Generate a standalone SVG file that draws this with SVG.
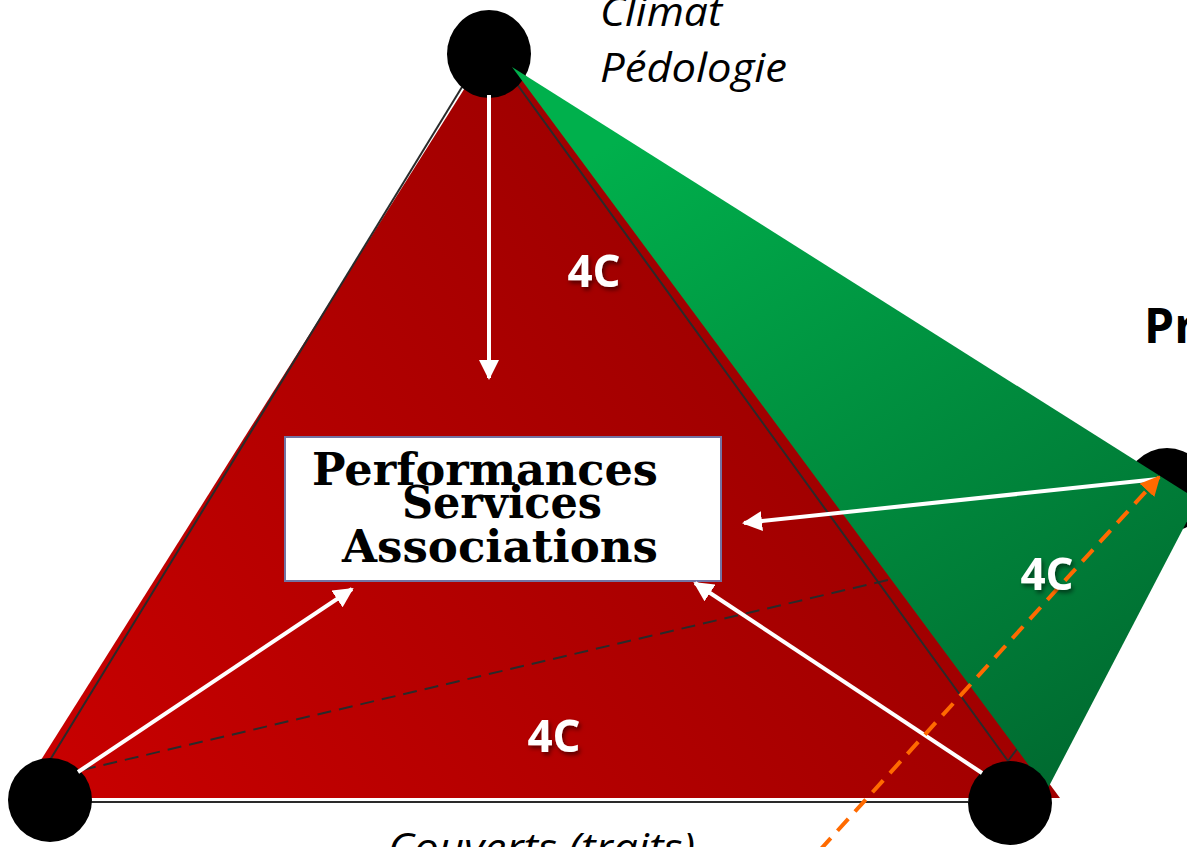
<svg xmlns="http://www.w3.org/2000/svg" width="1187" height="847" viewBox="0 0 1187 847">
<defs>
<linearGradient id="redG" gradientUnits="userSpaceOnUse" x1="60" y1="800" x2="900" y2="150">
<stop offset="0" stop-color="#c80000"/>
<stop offset="1" stop-color="#940000"/>
</linearGradient>
<linearGradient id="greenG" gradientUnits="userSpaceOnUse" x1="650" y1="120" x2="1060" y2="790">
<stop offset="0" stop-color="#00b04c"/>
<stop offset="1" stop-color="#006a30"/>
</linearGradient>
<marker id="wh" viewBox="0 0 10 10" refX="9" refY="5" markerWidth="5" markerHeight="5" orient="auto" markerUnits="strokeWidth">
<path d="M0,0 L10,5 L0,10 z" fill="#fff"/>
</marker>
<marker id="oh" viewBox="0 0 10 10" refX="9" refY="5" markerWidth="5" markerHeight="5" orient="auto" markerUnits="strokeWidth">
<path d="M0,0 L10,5 L0,10 z" fill="#ff6a00"/>
</marker>
<filter id="sh" x="-20%" y="-20%" width="140%" height="140%">
<feDropShadow dx="2" dy="3" stdDeviation="2" flood-color="#000" flood-opacity="0.5"/>
</filter>
</defs>
<style>
.node{fill:#000}
.edge{stroke:#2a2a2a;stroke-width:2;fill:none}
.warrow{stroke:#fff;stroke-width:4;fill:none;marker-end:url(#wh)}
.lab{font-family:"Open Sans","DejaVu Sans",sans-serif;font-style:italic;font-size:40px;fill:#000}
.fc{font-family:"Open Sans","DejaVu Sans",sans-serif;font-weight:bold;font-size:44px;fill:#fff;text-anchor:middle;filter:url(#sh)}
.box{font-family:"DejaVu Serif","Liberation Serif",serif;font-weight:bold;font-size:44px;fill:#000}
</style>
<g id="red-face">
<polygon points="497,37 17,798 1060,798" fill="url(#redG)"/>
</g>
<g id="outline">
<line class="edge" x1="462" y1="87" x2="50" y2="760"/>
<line class="edge" x1="514" y1="80" x2="1008" y2="761"/>
<line class="edge" x1="1008" y1="761" x2="1017" y2="749"/>
<line stroke="#fff" stroke-width="1.5" x1="90" y1="799.5" x2="968" y2="799.5"/>
<line class="edge" x1="90" y1="802" x2="968" y2="802"/>
<line class="edge" x1="82" y1="770" x2="892" y2="579" stroke-dasharray="14 8"/>
</g>
<g id="node-climat"><ellipse class="node" cx="489" cy="54" rx="42" ry="44"/></g>
<g id="node-pratiques"><circle class="node" cx="1167" cy="490" r="42"/></g>
<g id="green-face">
<polygon points="512,67 1198,500 1047,790" fill="url(#greenG)"/>
</g>
<g id="node-couverts"><circle class="node" cx="50" cy="800" r="42"/></g>
<g id="node-right"><circle class="node" cx="1010" cy="803" r="42"/></g>
<g id="center-box">
<rect x="285" y="437" width="436" height="144" fill="#fff" stroke="#7373a3" stroke-width="2"/>
<text class="box" x="312" y="485" textLength="346" lengthAdjust="spacingAndGlyphs">Performances</text>
<text class="box" x="402" y="518" textLength="200" lengthAdjust="spacingAndGlyphs">Services</text>
<text class="box" x="342" y="562" textLength="316" lengthAdjust="spacingAndGlyphs">Associations</text>
</g>
<g id="connectors">
<line class="warrow" x1="489" y1="95" x2="489" y2="378"/>
<line class="warrow" x1="78" y1="772" x2="352" y2="589"/>
<line class="warrow" x1="982" y1="773" x2="695" y2="583"/>
<line class="warrow" x1="1158" y1="479" x2="744" y2="523"/>
<line x1="820" y1="850" x2="1159" y2="477" stroke="#ff6a00" stroke-width="4" stroke-dasharray="16 10" marker-end="url(#oh)"/>
</g>
<g id="labels">
<text class="lab" x="600" y="26" textLength="122" lengthAdjust="spacingAndGlyphs">Climat</text>
<text class="lab" x="600" y="82" textLength="187" lengthAdjust="spacingAndGlyphs">Pédologie</text>
<text class="lab" x="388" y="862" textLength="307" lengthAdjust="spacingAndGlyphs">Couverts (traits)</text>
<text x="1144" y="343" font-family="Open Sans, DejaVu Sans, sans-serif" font-weight="bold" font-size="48" fill="#000">Pratiques</text>
<text class="fc" x="594" y="287">4C</text>
<text class="fc" x="554" y="752">4C</text>
<text class="fc" x="1047" y="590">4C</text>
</g>
</svg>
